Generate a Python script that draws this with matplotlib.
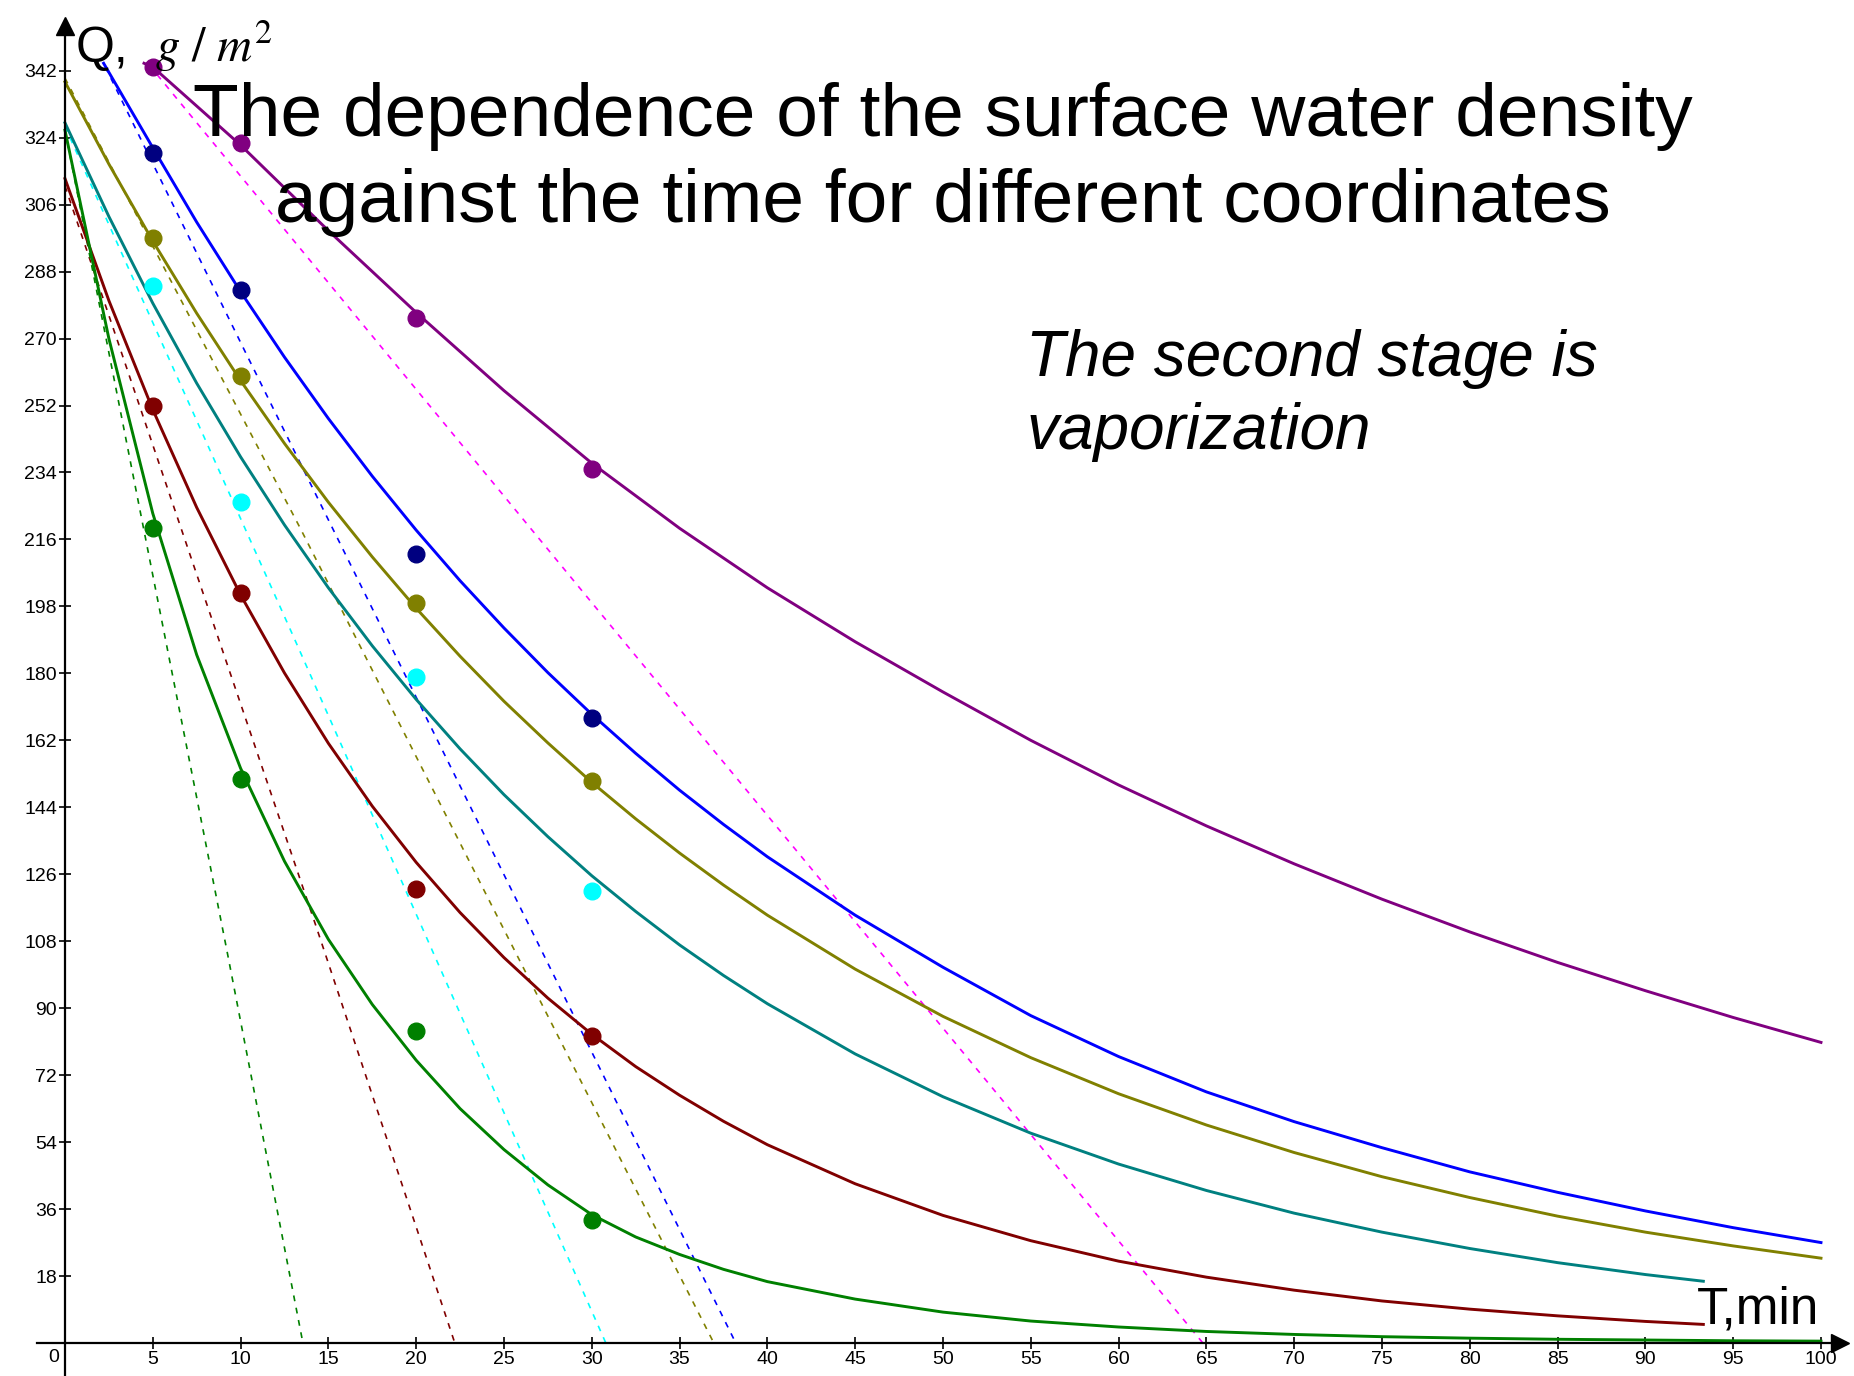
import matplotlib
matplotlib.use("Agg")
import matplotlib.pyplot as plt

plt.rcParams['font.family'] = ['Liberation Sans', 'DejaVu Sans']
plt.rcParams['mathtext.fontset'] = 'stix'

# measured points (time, min)
pt_t = [5, 10, 20, 30]
pt_purple = [343, 322.5, 275.5, 235]
pt_blue = [320, 283, 212, 168]
pt_olive = [297, 260, 199, 151]
pt_cyan = [284, 226, 179, 121.5]
pt_red = [252, 201.5, 122, 82.5]
pt_green = [219, 151.5, 84, 33]

# fitted curves
t_purple = [4.5, 5, 10, 15, 20, 25, 30, 35, 40, 45, 50, 55, 60, 65, 70, 75, 80, 85, 90, 95, 100]
q_purple = [344, 343, 322, 299, 277, 256, 236.5, 219, 203, 188.5, 175, 162, 150, 139, 128.8,
            119.3, 110.5, 102.3, 94.7, 87.5, 80.8]

t_blue = [2.2, 5, 7.5, 10, 12.5, 15, 17.5, 20, 22.5, 25, 27.5, 30, 32.5, 35, 37.5, 40,
          45, 50, 55, 60, 65, 70, 75, 80, 85, 90, 95, 100]
q_blue = [344, 321.3, 301.3, 282.6, 265, 248.5, 233, 218.5, 204.9, 192.2, 180.2, 169, 158.5, 148.6,
          139.4, 130.7, 115, 101, 88, 77, 67.5, 59.5, 52.5, 46, 40.5, 35.5, 31, 27]

t_olive = [0, 2.5, 5, 7.5, 10, 12.5, 15, 17.5, 20, 22.5, 25, 27.5, 30, 32.5, 35, 37.5, 40,
           45, 50, 55, 60, 65, 70, 75, 80, 85, 90, 95, 100]
q_olive = [339, 316.9, 296.2, 276.8, 258.7, 241.8, 226, 211.3, 197.5, 184.6, 172.5, 161.3, 150.7,
           140.9, 131.7, 123.1, 115, 100.5, 87.8, 76.7, 67, 58.6, 51.2, 44.7, 39.1, 34.1, 29.8,
           26.1, 22.8]

t_teal = [0, 2.5, 5, 7.5, 10, 12.5, 15, 17.5, 20, 22.5, 25, 27.5, 30, 32.5, 35, 37.5, 40,
          45, 50, 55, 60, 65, 70, 75, 80, 85, 90, 93.3]
q_teal = [328, 302.8, 279.5, 258, 238.2, 219.9, 203, 187.4, 173, 159.7, 147.4, 136.1, 125.6,
          116, 107, 98.8, 91.2, 77.7, 66.2, 56.4, 48.1, 41, 34.9, 29.8, 25.4, 21.6, 18.4, 16.6]

t_red = [0, 2.5, 5, 7.5, 10, 12.5, 15, 17.5, 20, 22.5, 25, 27.5, 30, 32.5, 35, 37.5, 40,
         45, 50, 55, 60, 65, 70, 75, 80, 85, 90, 93.3]
q_red = [313, 280.2, 250.9, 224.6, 201.1, 180.1, 161.2, 144.3, 129.2, 115.7, 103.6, 92.7, 83,
         74.3, 66.6, 59.6, 53.3, 42.8, 34.3, 27.5, 22, 17.7, 14.2, 11.3, 9.1, 7.3, 5.8, 5]

t_green = [0, 2.5, 5, 7.5, 10, 12.5, 15, 17.5, 20, 22.5, 25, 27.5, 30, 32.5, 35, 37.5, 40,
           45, 50, 55, 60, 65, 70, 75, 80, 85, 90, 95, 100]
q_green = [326, 270, 223, 185, 154.5, 129.5, 108.5, 91, 76, 63, 52, 42.5, 34.5, 28.5, 23.8, 19.8,
           16.5, 11.8, 8.3, 5.9, 4.3, 3.1, 2.3, 1.7, 1.3, 1.0, 0.8, 0.6, 0.5]

# dashed lines
dt_magenta = [4.8, 30, 64.8]
dq_magenta = [343.5, 199, 0]
dt_blue = [2.3, 10.1, 38.2]
dq_blue = [343, 268, 0]
dt_olive = [0, 13.4, 36.95]
dq_olive = [340, 219, 0]
dt_cyan = [0, 13, 30.8]
dq_cyan = [327, 190, 0]
dt_red = [0, 14.3, 22.2]
dq_red = [311, 112, 0]
dt_green = [0, 9.2, 13.55]
dq_green = [326, 106, 0]

fig = plt.figure(figsize=(18.54, 13.76), dpi=100)
ax = fig.add_axes([0, 0, 1, 1])
ax.set_xlim(-3.70, 101.88)
ax.set_ylim(-8.87, 361.0)

dash = dict(linestyle=(0, (3.5, 4)), linewidth=1.2)
ax.plot(dt_magenta, dq_magenta, color='#FF00FF', **dash)
ax.plot(dt_blue, dq_blue, color='#0000FF', **dash)
ax.plot(dt_olive, dq_olive, color='#808000', **dash)
ax.plot(dt_cyan, dq_cyan, color='#00FFFF', **dash)
ax.plot(dt_red, dq_red, color='#800000', **dash)
ax.plot(dt_green, dq_green, color='#008000', **dash)

lw = 2.1
ax.plot(t_purple, q_purple, color='#800080', lw=lw)
ax.plot(t_blue, q_blue, color='#0000FF', lw=lw)
ax.plot(t_olive, q_olive, color='#808000', lw=lw)
ax.plot(t_teal, q_teal, color='#008080', lw=lw)
ax.plot(t_red, q_red, color='#800000', lw=lw)
ax.plot(t_green, q_green, color='#008000', lw=lw)

ms = 12
ax.plot(pt_t, pt_purple, 'o', color='#800080', ms=ms, zorder=5)
ax.plot(pt_t, pt_blue, 'o', color='#000080', ms=ms, zorder=5)
ax.plot(pt_t, pt_olive, 'o', color='#808000', ms=ms, zorder=5)
ax.plot(pt_t, pt_cyan, 'o', color='#00FFFF', ms=ms, zorder=5)
ax.plot(pt_t, pt_red, 'o', color='#800000', ms=ms, zorder=5)
ax.plot(pt_t, pt_green, 'o', color='#008000', ms=ms, zorder=5)

# axes through the origin
for s in ['top', 'right']:
    ax.spines[s].set_visible(False)
ax.spines['left'].set_position(('data', 0))
ax.spines['bottom'].set_position(('data', 0))
ax.spines['left'].set_bounds(-8.87, 355)
ax.spines['bottom'].set_bounds(-1.6, 101)
ax.spines['left'].set_linewidth(1.6)
ax.spines['bottom'].set_linewidth(1.6)
ax.plot(0, 354, '^', color='k', ms=13, clip_on=False, zorder=6)
ax.plot(101.1, 0, '>', color='k', ms=13, clip_on=False, zorder=6)

ax.set_xticks(range(5, 101, 5))
ax.set_yticks(range(18, 343, 18))
ax.tick_params(direction='inout', length=8.5, width=1.2, labelsize=14, pad=1.5, colors='k')
ax.text(-0.35, -1.5, '0', ha='right', va='top', fontsize=14)

fig.text(943 / 1854, 1 - 136 / 1376, 'The dependence of the surface water density',
         ha='center', va='baseline', fontsize=54, zorder=10)
fig.text(943 / 1854, 1 - 222 / 1376, 'against the time for different coordinates',
         ha='center', va='baseline', fontsize=54, zorder=10)

fig.text(1026 / 1854, 1 - 376 / 1376, 'The second stage is', style='italic',
         ha='left', va='baseline', fontsize=46)
fig.text(1026 / 1854, 1 - 449 / 1376, 'vaporization', style='italic',
         ha='left', va='baseline', fontsize=46)

fig.text(76 / 1854, 1 - 62 / 1376, 'Q,', ha='left', va='baseline', fontsize=36)
fig.text(155 / 1854, 1 - 62 / 1376, r'$g\ /\ m^2$', ha='left', va='baseline', fontsize=35)
fig.text(1697 / 1854, 1 - 1324 / 1376, 'T,min', ha='left', va='baseline', fontsize=37)

fig.savefig('out.png', dpi=100)
